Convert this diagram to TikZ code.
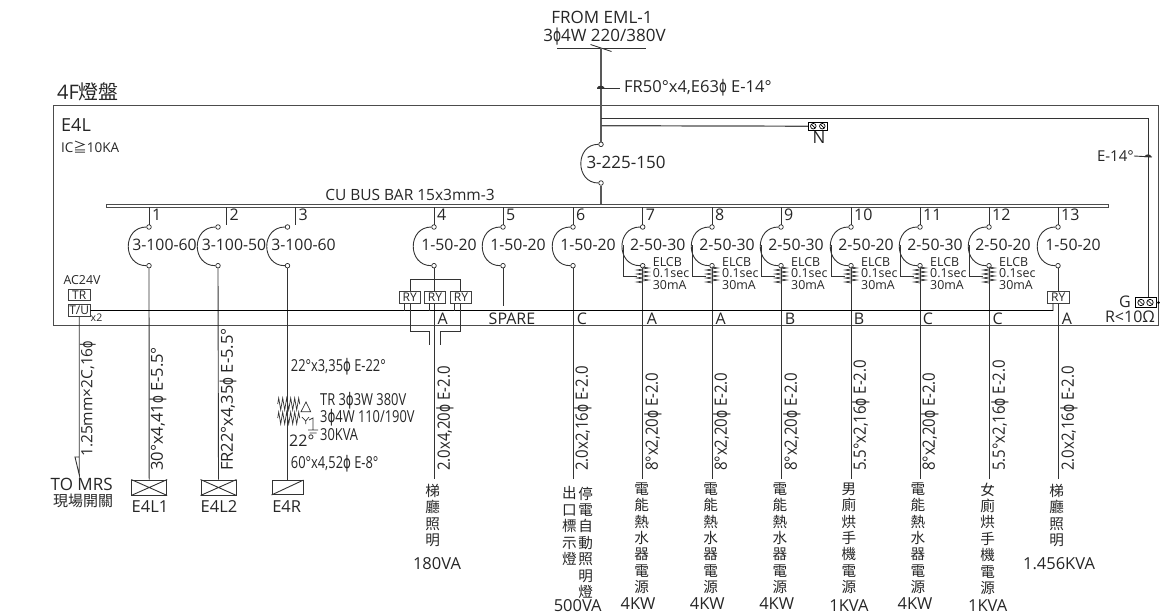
\documentclass[tikz,border=0pt]{standalone}
\usepackage{fontspec}
\usepackage{graphicx}
\setmainfont{Open Sans}
\newfontfamily\narrowfont[FakeStretch=0.88]{Open Sans}
\newfontfamily\thinfont[FakeStretch=0.78]{Open Sans}
\newfontfamily\cjk{Noto Sans CJK TC}
\newfontfamily\dejavu{DejaVu Sans}
\newcommand{\phs}{\scalebox{0.72}[1.05]{\dejavu ϕ}}
\usetikzlibrary{positioning}
\usetikzlibrary{shapes.symbols}
\usetikzlibrary{decorations.pathmorphing}
\tikzset{
  wire/.style={black!80,line width=0.9pt},
  thickwire/.style={black!65,line width=2pt},
  term/.style={circle,draw=black!85,line width=0.7pt,fill=white,inner sep=0pt,minimum size=4.6pt},
  txt/.style={inner sep=0pt,text=black!85,font=\fontsize{15}{15}\selectfont},
  bigtxt/.style={txt,font=\fontsize{17}{17}\selectfont},
  ratetxt/.style={txt,font=\fontsize{15.8}{16}\selectfont},
  cable/.style={txt,rotate=90,anchor=west,font=\narrowfont\fontsize{17}{17}\selectfont},
  widecable/.style={cable,font=\fontsize{16.5}{17}\selectfont},
  thintxt/.style={txt,anchor=west,font=\thinfont\fontsize{16.5}{16.5}\selectfont},
  small/.style={txt,font=\fontsize{12.4}{11.6}\selectfont},
  elcbtxt/.style={small,anchor=west,align=left},
  relay/.style={draw=black!75,line width=0.8pt,fill=white,inner sep=0pt,minimum width=21.5pt,minimum height=11.4pt,
    text=black!85,font=\fontsize{12}{12}\selectfont},
  loadbox/.style={draw=black!80,line width=0.9pt,inner sep=0pt,minimum width=35pt,minimum height=15pt},
  column/.style={txt,anchor=north,align=center,font=\cjk\fontsize{14.6}{16.4}\selectfont},
  watt/.style={txt,font=\fontsize{16.5}{17}\selectfont},
  slot/.style={forbidden sign,draw=black,line width=0.7pt,rotate=90,inner sep=0pt,minimum size=6.4pt},
  zig/.style={wire,line width=0.7pt,decorate,decoration={zigzag,segment length=4pt,amplitude=6pt}}
}
\begin{document}
\begin{tikzpicture}[x=1pt,y=-1pt,on grid,node distance=38.7pt]
  \useasboundingbox (0,0) rectangle (1160,614);
  % panel and bus bar
  \draw[black!70,line width=1pt] (53,105.5) rectangle (1158.5,325.5);
  \draw[black!70,line width=0.9pt] (106,204) rectangle (1108,207.5);
  \node[txt,anchor=west,font=\fontsize{20}{20}\selectfont] (title) at (57,92) {4F{\cjk 燈盤}};
  \node[txt,anchor=west,font=\fontsize{18}{18}\selectfont] (panel) at (61,125) {E4L};
  \node[txt,anchor=west,font=\fontsize{13.5}{14}\selectfont] (ic) at (61,147) {IC{\cjk ≧}10KA};
  \node[txt,font=\fontsize{15.5}{16}\selectfont] (bus) at (410,195) {CU BUS BAR 15x3mm-3};
  % incoming feeder
  \node[bigtxt] (from) at (602,17) {FROM EML-1};
  \node[bigtxt] (volt) at (604.5,37) {3\phs 4W 220/380V};
  \node[term] (t_m) at (601,144.3) {};
  \node[term,below=of t_m] (b_m) {};
  \node[bigtxt] (r_m) at (626,162) {3-225-150};
  \coordinate (j_top) at (601,48);
  \coordinate (j_bus) at (601,204);
  \draw[wire] (557,48) -- (646,48);
  \draw[wire] (590.5,44.5) -- (j_top) -- (611.5,51.5);
  \draw[thickwire] (j_top) -- (t_m);
  \draw[thickwire] (b_m) -- (j_bus);
  \draw[wire] (t_m) to[out=180,in=180,looseness=1.55] (b_m);
  \node[txt,anchor=west,font=\fontsize{16.5}{17}\selectfont] (fr) at (624,87.5) {FR50°x4,E63\phs{} E-14°};
  \coordinate (j_fr) at (597,88);
  \draw[wire] (j_fr) -- (620,88);
  \fill[black!80] (597,88) .. controls (597.5,85) and (604,85) .. (604.5,88) -- cycle;
  % neutral and ground
  \node[draw=black,line width=0.8pt,inner sep=0pt,minimum width=19pt,minimum height=7.7pt] (n_box) at (817.8,126.2) {};
  \node[slot,minimum size=5.6pt] (n_a) at (813.3,126.2) {};
  \node[slot,minimum size=5.6pt] (n_b) at (822.3,126.2) {};
  \node[bigtxt] (n_txt) at (819,137) {N};
  \coordinate (j_n) at (601,125.7);
  \draw[black!70,line width=1.2pt] (j_n) -- (n_box.west);
  \node[draw=black,line width=0.8pt,inner sep=0pt,minimum width=21pt,minimum height=9.6pt] (g_box) at (1145.5,302.5) {};
  \node[slot] (g_a) at (1141,302.5) {};
  \node[slot] (g_b) at (1150,302.5) {};
  \node[circle,fill=black,inner sep=0pt,minimum size=3pt] (g_dot) at (1158.5,302.7) {};
  \draw[wire] (g_box.east) -- (g_dot);
  \node[txt,font=\fontsize{16}{16}\selectfont] (g_txt) at (1125,301.5) {G};
  \node[txt,font=\fontsize{16}{16}\selectfont] (g_r) at (1130,316.7) {R<10Ω};
  \coordinate (j_g) at (601,118);
  \coordinate (k_g) at (1148,118);
  \draw[wire] (j_g) -- (k_g) -- (k_g |- g_box.north);
  \node[txt,anchor=east] (e14) at (1134,156) {E-14°};
  \draw[wire] (e14.east) -- (1152,157);
  \fill[black!80] (1144.5,157) .. controls (1145,153.5) and (1151,153.5) .. (1151.5,157) -- cycle;
  % branch circuits
  \foreach \n/\x/\stub/\rate/\off in {1/149/0/3-100-60/15.5,2/218/8.5/3-100-50/16,3/287.5/8/3-100-60/16,
    4/434/0/1-50-20/15,5/503/0/1-50-20/15,6/573/0/1-50-20/15,7/642.7/0/2-50-30/15,8/712/0/2-50-30/15,
    9/781/0/2-50-30/15,10/851/0/2-50-20/15,11/920/0/2-50-30/15,12/989/0/2-50-20/14,13/1058/0/1-50-20/15}{
    \coordinate (s_\n) at ({\x+\stub},207);
    \node[term] (t_\n) at (\x,227) {};
    \node[term,below=of t_\n] (b_\n) {};
    \node[ratetxt] (r_\n) at ({\x+\off},245) {\rate};
    \node[txt,anchor=west,font=\fontsize{16}{16}\selectfont] (n_\n) at ({\x+\stub+3},215) {\n};
    \draw[wire] (s_\n) -- ({\x+\stub},225);
    \draw[wire] (t_\n) to[out=180,in=180,looseness=1.6] (b_\n);
  }
  \draw[wire] (s_1) -- (t_1);
  % ELCB
  \foreach \n/\x in {7/642.7,8/712,9/781,10/851,11/920,12/989}{
    \coordinate (z_\n) at (\x,267);
    \coordinate (e_\n) at (\x,283);
    \draw[zig] (z_\n) -- (e_\n);
    \draw[wire,line width=0.7pt] ({\x-19.5},245) -- ({\x-19.5},276) -- ({\x-6},276);
    \node[elcbtxt] (c_\n) at ({\x+10},273.5) {ELCB\\0.1sec\\30mA};
  }
  % loads
  \node[loadbox] (d_1) at (149.2,487.5) {};
  \node[loadbox] (d_2) at (218.5,487.5) {};
  \node[loadbox,minimum width=31pt,minimum height=14pt] (d_3) at (287.5,487.5) {};
  \draw[wire] (d_1.north west) -- (d_1.south east) (d_1.south west) -- (d_1.north east);
  \draw[wire] (d_2.north west) -- (d_2.south east) (d_2.south west) -- (d_2.north east);
  \draw[wire] (d_3.south west) -- (d_3.north east);
  \node[watt] (d_1t) at (150,506.7) {E4L1};
  \node[watt] (d_2t) at (219,506.7) {E4L2};
  \node[watt] (d_3t) at (286.7,506.7) {E4R};
  \foreach \n in {1,2,3}{
    \draw[wire] (b_\n) -- (d_\n.north);
  }
  \foreach \n/\x in {4/434,6/573,7/642.7,8/712,9/781,10/851,11/920,12/989,13/1058}{
    \coordinate (f_\n) at (\x,479);
    \draw[wire] (b_\n) -- (f_\n);
  }
  \coordinate (f_5) at (503,306);
  \draw[wire] (b_5) -- (f_5);
  % control line and relays
  \node[relay,minimum width=21.7pt] (tr) at (79.2,295) {TR};
  \node[relay,minimum width=21.7pt] (tu) at (79.2,310.4) {T/U};
  \node[small] (ac) at (82,280) {AC24V};
  \node[txt,font=\fontsize{10.5}{10.5}\selectfont] (x2) at (96.5,317.5) {x2};
  \coordinate (c_e) at (1053,310.5);
  \node[relay] (ry_d) at (1058.3,297.4) {RY};
  \draw[black,line width=0.7pt] (tu.east) -- (c_e) -- (c_e |- ry_d.south);
  \coordinate (k_l) at (410,279.3);
  \coordinate (k_r) at (460,279.3);
  \draw[wire,line width=0.8pt] (k_l) -- (k_r);
  \draw[wire,line width=0.8pt] (k_l) -- (410,331.7) -- (429.7,331.7) -- (429.7,345);
  \draw[wire,line width=0.8pt] (k_r) -- (460,331.7) -- (440.7,331.7) -- (440.7,345);
  \foreach \n/\x/\c in {a/409.8/404,b/435/429,c/461/454}{
    \node[relay] (ry_\n) at (\x,297.5) {RY};
    \coordinate (c_\n) at (\c,310.5);
    \draw[wire,line width=0.7pt] (c_\n |- ry_\n.south) -- (c_\n);
  }
  % phases
  \foreach \n/\x/\ph in {4/442.7/A,5/512/SPARE,6/582/C,7/652/A,8/720.7/A,9/790/B,10/859/B,11/928/C,12/997.7/C,13/1067/A}{
    \node[txt,font=\fontsize{16}{16}\selectfont] (p_\n) at (\x,318.5) {\ph};
  }
  % cables
  \node[widecable] (l_1) at (158,471) {30°x4,41\phs{} E-5.5°};
  \node[widecable] (l_2) at (228,471) {FR22°x4,35\phs{} E-5.5°};
  \foreach \n/\x/\cab in {4/445/{2.0x4,20\phs{} E-2.0},
    6/583/{2.0x2,16\phs{} E-2.0},7/653/{8°x2,20\phs{} E-2.0},8/722/{8°x2,20\phs{} E-2.0},9/792/{8°x2,20\phs{} E-2.0},
    10/861/{5.5°x2,16\phs{} E-2.0},11/930/{8°x2,20\phs{} E-2.0},12/1000/{5.5°x2,16\phs{} E-2.0},13/1069/{2.0x2,16\phs{} E-2.0}}{
    \node[cable] (l_\n) at (\x,471) {\cab};
  }
  % MRS feed
  \coordinate (m_a) at (79.3,475);
  \coordinate (m_b) at (75,457);
  \draw[wire] (tu.south) -- (m_a) -- (m_b) -- (79.3,457);
  \node[widecable,font=\fontsize{15.5}{16}\selectfont] (m_c) at (88,457) {1.25mm×2C,16\phs};
  \node[bigtxt] (m_t) at (81.7,484) {TO MRS};
  \node[txt,font=\cjk\fontsize{15}{15}\selectfont] (m_u) at (83,500.7) {現場開關};
  % transformer
  \draw[zig] (277.7,404) -- (300,404);
  \draw[zig] (277.7,418) -- (300,418);
  \draw[wire,line width=0.7pt] (301,411.7) -- (306,402) -- (310.7,411.7) -- cycle;
  \draw[wire,line width=0.7pt] (302,417) -- (305.7,421) -- (309,417) (305.7,421) -- (305.7,424);
  \draw[wire,line width=0.7pt] (309,420) -- (313,418) -- (313,430) (308,430) -- (318,430) (309.5,433) -- (316.5,433);
  \node[thintxt] (tx_a) at (290.7,366.7) {22°x3,35\phs{} E-22°};
  \node[thintxt] (tx_b) at (320,401) {TR 3\phs 3W 380V};
  \node[thintxt] (tx_c) at (320,418) {3\phs 4W 110/190V};
  \node[thintxt] (tx_d) at (320,435) {30KVA};
  \node[txt,anchor=west,font=\fontsize{16}{16}\selectfont] (tx_e) at (289,441) {22°};
  \node[thintxt] (tx_f) at (290.7,464) {60°x4,52\phs{} E-8°};
  % load names
  \node[column] (v_4) at (432.7,484) {梯\\廳\\照\\明};
  \node[watt] (w_4) at (437,563.3) {180VA};
  \node[column] (v_6a) at (569.3,486.5) {出\\口\\標\\示\\燈};
  \node[column] (v_6b) at (585.7,486.5) {停\\電\\自\\動\\照\\明\\燈};
  \node[watt] (w_6) at (577.7,605.5) {500VA};
  \node[column] (v_7) at (641.7,482.5) {電\\能\\熱\\水\\器\\電\\源};
  \node[watt] (w_7) at (638,604) {4KW};
  \node[column] (v_8) at (710.7,482.5) {電\\能\\熱\\水\\器\\電\\源};
  \node[watt] (w_8) at (707.3,604) {4KW};
  \node[column] (v_9) at (780,482.5) {電\\能\\熱\\水\\器\\電\\源};
  \node[watt] (w_9) at (776.7,604) {4KW};
  \node[column] (v_10) at (849,482.5) {男\\廁\\烘\\手\\機\\電\\源};
  \node[watt] (w_10) at (849,606) {1KVA};
  \node[column] (v_11) at (918,482.5) {電\\能\\熱\\水\\器\\電\\源};
  \node[watt] (w_11) at (915,604) {4KW};
  \node[column] (v_12) at (987.7,482.5) {女\\廁\\烘\\手\\機\\電\\源};
  \node[watt] (w_12) at (987.7,606) {1KVA};
  \node[column] (v_13) at (1056.7,484) {梯\\廳\\照\\明};
  \node[watt] (w_13) at (1059,563.3) {1.456KVA};
\end{tikzpicture}
\end{document}
